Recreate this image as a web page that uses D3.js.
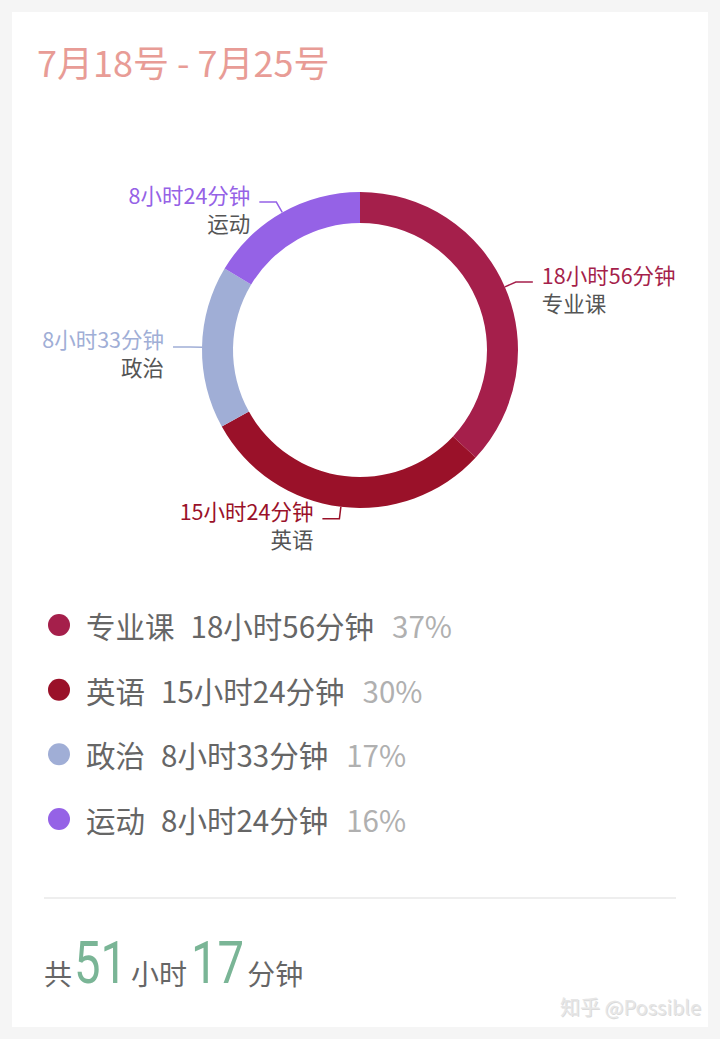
<!DOCTYPE html>
<html>
<head>
<meta charset="utf-8">
<script src="https://cdn.jsdelivr.net/npm/d3@7"></script>
<style>
  html, body { margin: 0; padding: 0; background: #f5f5f5; }
  svg { display: block; }
  text { font-family: "Noto Sans CJK SC", "Noto Sans", sans-serif; }
</style>
</head>
<body>
<svg id="chart" width="720" height="1039"></svg>
<script>
// ---- data ----
const title = "7月18号 - 7月25号";
const categories = ["专业课", "英语", "政治", "运动"];
const minutes = [1136, 924, 513, 504];
const colors = ["#a51f4b", "#9a1129", "#a0aed6", "#9562e6"];
const watermark = "知乎 @Possible";

function fmt(m) { return Math.floor(m / 60) + "小时" + (m % 60) + "分钟"; }
const total = d3.sum(minutes);
const data = categories.map((c, i) => ({ name: c, value: minutes[i], color: colors[i] }));

const svg = d3.select("#chart");
svg.append("rect").attr("x", 12).attr("y", 12).attr("width", 696).attr("height", 1015).attr("fill", "#fff");

// title
svg.append("text").attr("x", 37).attr("y", 77)
  .attr("font-size", 36).attr("fill", "#e89c96").text(title);

// donut
const cx = 360, cy = 350, outerR = 158, innerR = 127;
const g = svg.append("g").attr("transform", `translate(${cx},${cy})`);
const pie = d3.pie().value(d => d.value).sort(null);
const arcs = pie(data);
const arc = d3.arc().innerRadius(innerR).outerRadius(outerR);
g.selectAll("path.slice").data(arcs).join("path")
  .attr("class", "slice").attr("d", arc).attr("fill", d => d.data.color);

// labels
const len1 = 12, len2 = 17, gap = 9;
arcs.forEach(a => {
  const mid = (a.startAngle + a.endAngle) / 2;
  const sx = Math.sin(mid), sy = -Math.cos(mid);
  const p1 = [outerR * sx, outerR * sy];
  const p2 = [(outerR + len1) * sx, (outerR + len1) * sy];
  const right = sx >= 0;
  const p3 = [p2[0] + (right ? len2 : -len2), p2[1]];
  g.append("polyline").attr("points", [p1, p2, p3].map(p => p.join(",")).join(" "))
    .attr("fill", "none").attr("stroke", a.data.color).attr("stroke-width", 1.5);
  const tx = p3[0] + (right ? gap : -gap);
  const anchor = right ? "start" : "end";
  g.append("text").attr("x", tx).attr("y", p3[1] - 8).attr("dominant-baseline", "central")
    .attr("text-anchor", anchor).attr("font-size", 21.5).attr("fill", a.data.color)
    .text(fmt(a.data.value));
  g.append("text").attr("x", tx).attr("y", p3[1] + 20).attr("dominant-baseline", "central")
    .attr("text-anchor", anchor).attr("font-size", 21.5).attr("fill", "#555")
    .text(a.data.name);
});

// legend
const ly = d3.scalePoint().domain(categories).range([625, 819]);
const legend = svg.append("g");
data.forEach(d => {
  const y = ly(d.name);
  legend.append("circle").attr("cx", 59).attr("cy", y).attr("r", 11).attr("fill", d.color);
  const t = legend.append("text").attr("x", 86).attr("y", y).attr("dominant-baseline", "central")
    .attr("font-size", 29.5).attr("fill", "#666");
  t.append("tspan").text(d.name);
  t.append("tspan").attr("dx", 16).text(fmt(d.value));
  t.append("tspan").attr("dx", 18).attr("fill", "#b0b0b0")
    .text(Math.round(d.value / total * 100) + "%");
});

// divider
svg.append("line").attr("x1", 44).attr("x2", 676).attr("y1", 898).attr("y2", 898)
  .attr("stroke", "#eeeeee").attr("stroke-width", 2);

// total: sequential pieces, numbers horizontally condensed
const pieces = [
  { t: "共", big: false, gap: 2 },
  { t: String(Math.floor(total / 60)), big: true, gap: 4 },
  { t: "小时", big: false, gap: 4 },
  { t: String(total % 60), big: true, gap: 3 },
  { t: "分钟", big: false, gap: 0 }
];
let xPos = 44;
pieces.forEach(p => {
  const el = svg.append("text").attr("y", 0).attr("fill", p.big ? "#7ab596" : "#666")
    .attr("font-size", p.big ? 59 : 28)
    .style("font-family", p.big ? "Roboto, sans-serif" : null)
    .text(p.t);
  const sx = p.big ? 0.8 : 1;
  const w = el.node().getComputedTextLength() * sx;
  el.attr("transform", `translate(${xPos},${p.big ? 983 : 985}) scale(${sx},1)`);
  xPos += w + p.gap;
});

// watermark
svg.append("text").attr("x", 702).attr("y", 1016).attr("text-anchor", "end")
  .attr("font-size", 20).attr("fill", "#999").attr("opacity", 0.35).text(watermark);
svg.append("text").attr("x", 701).attr("y", 1015).attr("text-anchor", "end")
  .attr("font-size", 20).attr("fill", "#e6e6e6").text(watermark);
</script>
</body>
</html>
